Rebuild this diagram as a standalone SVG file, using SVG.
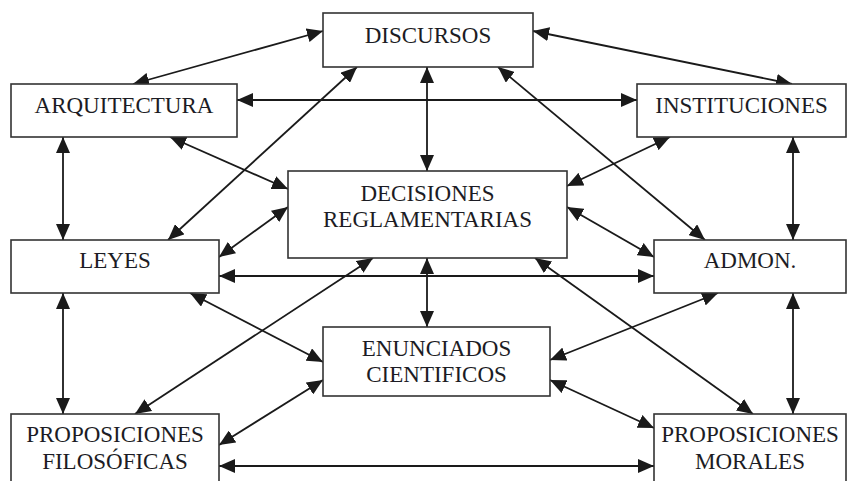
<svg xmlns="http://www.w3.org/2000/svg" width="852" height="481" viewBox="0 0 852 481">
<style>
.box{fill:#fff;stroke:#333;stroke-width:1.6}
.t{font-family:"Liberation Serif","Times New Roman",serif;font-size:23px;fill:#1c1c24;text-anchor:middle}
.c{stroke:#1a1a1a;stroke-width:1.8;fill:none;marker-start:url(#ah);marker-end:url(#ah)}
</style>
<defs>
<marker id="ah" markerUnits="userSpaceOnUse" markerWidth="17" markerHeight="14" refX="16" refY="7" orient="auto-start-reverse">
<path d="M0,0 L16,7 L0,14 z" fill="#1a1a1a"/>
</marker>
</defs>
<rect width="852" height="481" fill="#fff"/>
<g id="connectors">
<line class="c" x1="133" y1="84" x2="323" y2="31"/>
<line class="c" x1="533" y1="31" x2="792" y2="84"/>
<line class="c" x1="237" y1="100" x2="637" y2="100"/>
<line class="c" x1="427" y1="67" x2="427" y2="171"/>
<line class="c" x1="357" y1="67" x2="168" y2="240"/>
<line class="c" x1="498" y1="67" x2="705" y2="240"/>
<line class="c" x1="170" y1="137" x2="288" y2="189"/>
<line class="c" x1="670" y1="137" x2="567" y2="186"/>
<line class="c" x1="63" y1="137" x2="63" y2="240"/>
<line class="c" x1="793" y1="137" x2="793" y2="240"/>
<line class="c" x1="288" y1="207" x2="219" y2="257"/>
<line class="c" x1="567" y1="207" x2="654" y2="257"/>
<line class="c" x1="219" y1="276" x2="654" y2="276"/>
<line class="c" x1="427" y1="258" x2="427" y2="327"/>
<line class="c" x1="373" y1="258" x2="135" y2="414"/>
<line class="c" x1="535" y1="258" x2="753" y2="414"/>
<line class="c" x1="190" y1="293" x2="323" y2="362"/>
<line class="c" x1="718" y1="293" x2="550" y2="360"/>
<line class="c" x1="63" y1="293" x2="63" y2="414"/>
<line class="c" x1="793" y1="293" x2="793" y2="414"/>
<line class="c" x1="323" y1="380" x2="219" y2="445"/>
<line class="c" x1="550" y1="380" x2="654" y2="428"/>
<line class="c" x1="219" y1="466" x2="654" y2="466"/>
</g>
<g id="discursos"><rect class="box" x="323" y="13" width="210" height="54"/><text class="t" x="428" y="43">DISCURSOS</text></g>
<g id="arquitectura"><rect class="box" x="11" y="84" width="226" height="53"/><text class="t" x="124" y="113">ARQUITECTURA</text></g>
<g id="instituciones"><rect class="box" x="637" y="84" width="209" height="53"/><text class="t" x="741.5" y="113">INSTITUCIONES</text></g>
<g id="decisiones"><rect class="box" x="288" y="171" width="279" height="87"/><text class="t" x="427.5" y="201">DECISIONES</text><text class="t" x="427.5" y="227">REGLAMENTARIAS</text></g>
<g id="leyes"><rect class="box" x="11" y="240" width="208" height="53"/><text class="t" x="115" y="268">LEYES</text></g>
<g id="admon"><rect class="box" x="654" y="240" width="192" height="53"/><text class="t" x="750" y="268">ADMON.</text></g>
<g id="enunciados"><rect class="box" x="323" y="327" width="227" height="69"/><text class="t" x="436.5" y="356">ENUNCIADOS</text><text class="t" x="436.5" y="382">CIENTIFICOS</text></g>
<g id="prop-filosoficas"><rect class="box" x="11" y="414" width="208" height="75"/><text class="t" x="115" y="442">PROPOSICIONES</text><text class="t" x="115" y="469">FILOSÓFICAS</text></g>
<g id="prop-morales"><rect class="box" x="654" y="414" width="192" height="75"/><text class="t" x="750" y="442">PROPOSICIONES</text><text class="t" x="750" y="469">MORALES</text></g>
</svg>
